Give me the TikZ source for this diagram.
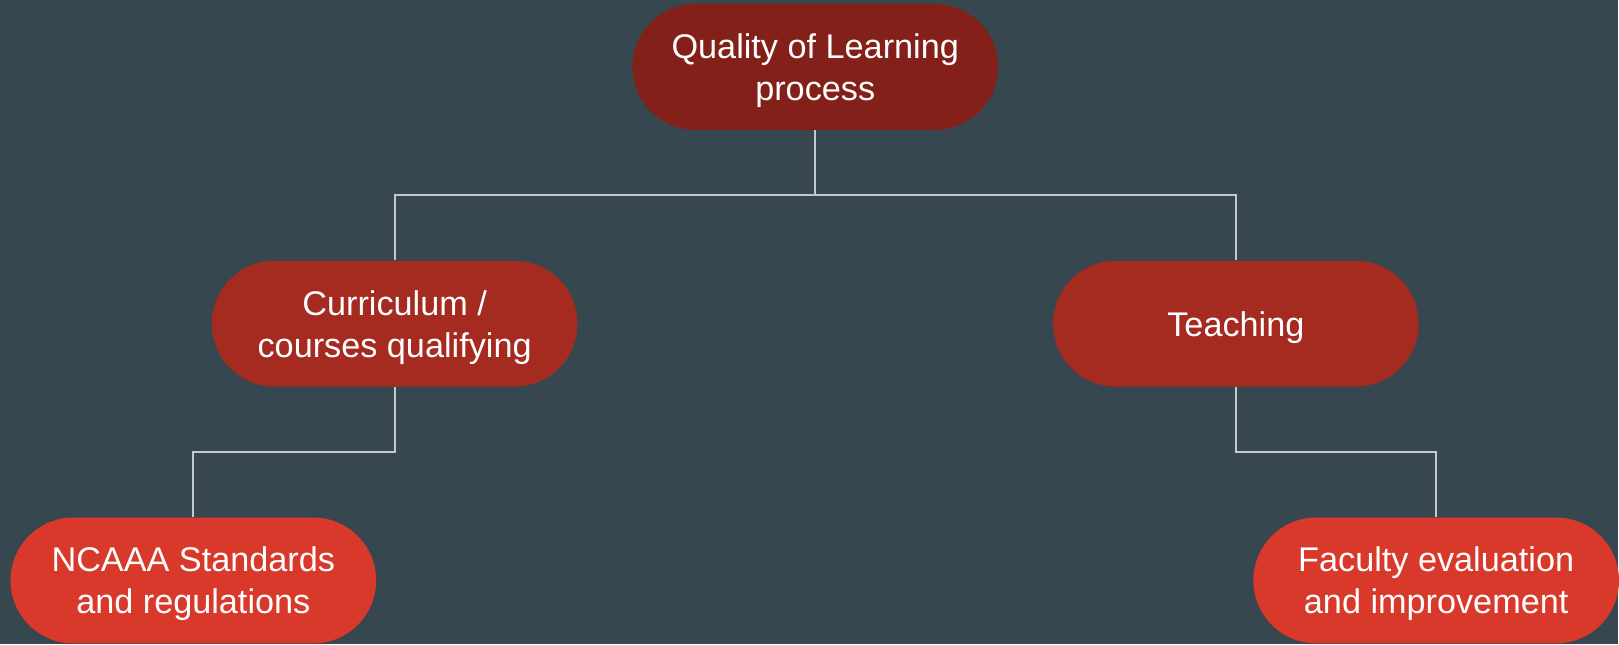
\documentclass[tikz,border=0pt]{standalone}
\usepackage{fontspec}
\setmainfont{Liberation Sans}
\usepackage{tikz}
\usetikzlibrary{positioning}
\definecolor{bgGrey}{HTML}{37474F}
\definecolor{topRed}{HTML}{84201A}
\definecolor{midRed}{HTML}{A52A20}
\definecolor{lowRed}{HTML}{D8392B}
\definecolor{lineGrey}{HTML}{C4C8CA}

\begin{document}
\begin{tikzpicture}
        % 结点样式
        [TopNode/.style={rectangle,rounded corners=1.26cm,fill=topRed,text=white,align=center,minimum width=7.32cm,minimum height=2.52cm,text depth=-1.5pt,font=\fontsize{19.5}{24}\selectfont},
        MidNode/.style={TopNode,fill=midRed},
        LowNode/.style={TopNode,fill=lowRed},
        Link/.style={draw=lineGrey,line width=1.1pt}]

        % 背景
        \fill[bgGrey](0,0)rectangle(32.38,12.9);

        % 第一层
        \node[TopNode] (quality) at (16.32, 11.56){Quality of Learning\\process};

        % 第二层
        \node[MidNode] (curriculum) at (7.9, 6.42){Curriculum /\\courses qualifying};
        \node[MidNode] (teaching) at (24.74, 6.42){Teaching};

        % 第三层
        \node[LowNode] (ncaaa) at (3.87, 1.28){NCAAA Standards\\and regulations};
        \node[LowNode] (faculty) at (28.75, 1.28){Faculty evaluation\\and improvement};

        % 连线
        \draw[Link](quality.south)--++(0,-1.3)-|(curriculum.north);
        \draw[Link](quality.south)--++(0,-1.3)-|(teaching.north);
        \draw[Link](curriculum.south)--++(0,-1.3)-|(ncaaa.north);
        \draw[Link](teaching.south)--++(0,-1.3)-|(faculty.north);
    \end{tikzpicture}
\end{document}
